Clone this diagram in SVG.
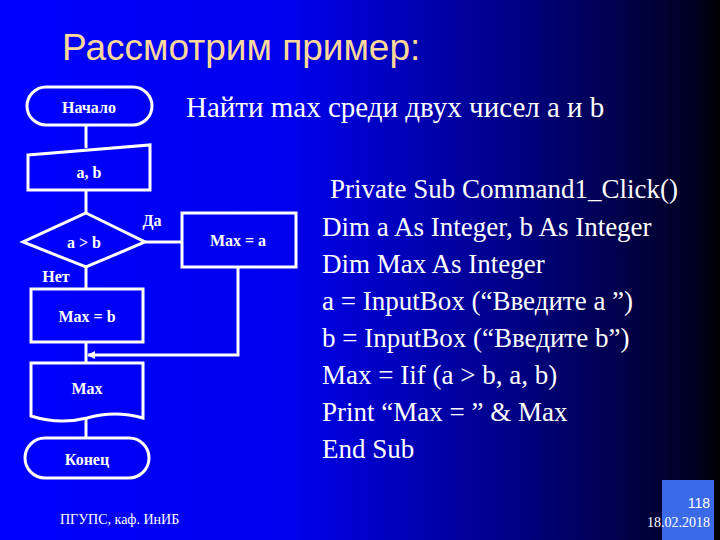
<svg xmlns="http://www.w3.org/2000/svg" width="720" height="540" viewBox="0 0 720 540">
<defs>
<linearGradient id="bg" x1="0" y1="0" x2="1" y2="0">
<stop offset="0" stop-color="#0000ff"/>
<stop offset="0.4" stop-color="#0000ee"/>
<stop offset="0.7" stop-color="#00008a"/>
<stop offset="0.97" stop-color="#000020"/>
<stop offset="1" stop-color="#000000"/>
</linearGradient>
<marker id="arr" markerWidth="8" markerHeight="8" refX="7" refY="4" orient="auto" markerUnits="userSpaceOnUse"><path d="M0,0 L8,4 L0,8 z" fill="#fff"/></marker>
<style>
.s{fill:none;stroke:#fff;stroke-width:3}
.n{font-family:'Liberation Serif',serif;font-weight:bold;font-size:16px;fill:#fff;text-anchor:middle}
.c{font-family:'Liberation Serif',serif;font-size:27px;fill:#fff}
</style>
</defs>
<rect width="720" height="540" fill="url(#bg)"/>
<rect x="662" y="480" width="52" height="60" fill="#3a6ae8"/>
<text x="62" y="60" font-family="Liberation Sans,sans-serif" font-size="37" fill="#ffd89a">Рассмотрим пример:</text>
<text x="186" y="117" font-family="Liberation Serif,serif" font-size="29" fill="#fff">Найти max среди двух чисел a и b</text>
<g id="connectors" class="s">
<path d="M86,125 V148"/>
<path d="M86,190 V213"/>
<path d="M145,242 H182"/>
<path d="M86,267 V289"/>
<path d="M86,342 V363"/>
<path d="M238,267 V355 H88" marker-end="url(#arr)"/>
<path d="M86,418 V438"/>
</g>
<g id="start"><rect class="s" x="27" y="87" width="125" height="38" rx="19"/><text class="n" x="89" y="113">Начало</text></g>
<g id="input"><path class="s" d="M28,155 L150,145 V190 H28 Z"/><text class="n" x="89" y="178">a, b</text></g>
<g id="cond"><path class="s" d="M86,213 L145,242 L86,267 L23,242 Z"/><text class="n" x="84" y="248">a &gt; b</text>
<text class="n" x="152" y="226">Да</text><text class="n" x="56" y="282">Нет</text></g>
<g id="maxa"><rect class="s" x="182" y="213" width="114" height="54"/><text class="n" x="238" y="246">Max = a</text></g>
<g id="maxb"><rect class="s" x="31" y="289" width="112" height="53"/><text class="n" x="87" y="322">Max = b</text></g>
<g id="output"><path class="s" d="M31,363 H143 V418 Q115,410 87,418 Q59,425 31,416 Z"/><text class="n" x="87" y="394">Max</text></g>
<g id="end"><rect class="s" x="25" y="438" width="124" height="40" rx="20"/><text class="n" x="87" y="465">Конец</text></g>
<g class="c">
<text x="330" y="198">Private Sub Command1_Click()</text>
<text x="322" y="236">Dim a As Integer, b As Integer</text>
<text x="322" y="273">Dim Max As Integer</text>
<text x="322" y="310">a = InputBox (“Введите a ”)</text>
<text x="322" y="347">b = InputBox (“Введите b”)</text>
<text x="322" y="384">Max = Iif (a &gt; b, a, b)</text>
<text x="322" y="421">Print “Max = ” &amp; Max</text>
<text x="322" y="458">End Sub</text>
</g>
<text x="60" y="524" font-family="Liberation Serif,serif" font-size="14" fill="#fff">ПГУПС, каф. ИнИБ</text>
<text x="710" y="508" font-family="Liberation Sans,sans-serif" font-size="14" fill="#fff" text-anchor="end">118</text>
<text x="710" y="527" font-family="Liberation Serif,serif" font-size="14" fill="#fff" text-anchor="end">18.02.2018</text>
</svg>
